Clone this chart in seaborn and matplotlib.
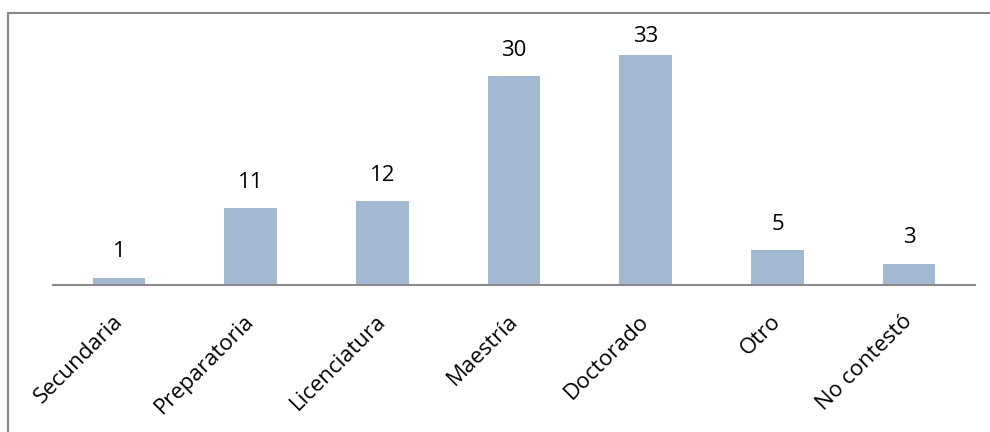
import matplotlib
matplotlib.use("Agg")
import matplotlib.pyplot as plt
from matplotlib.patches import Rectangle
from matplotlib.transforms import ScaledTranslation
import seaborn as sns
import pandas as pd

# Nivel de estudios
categorias = ["Secundaria", "Preparatoria", "Licenciatura", "Maestría",
              "Doctorado", "Otro", "No contestó"]
valores = [1, 11, 12, 30, 33, 5, 3]

sns.set_theme(style="white")
plt.rcParams["font.family"] = ["Open Sans", "DejaVu Sans"]

df = pd.DataFrame({"categoria": categorias, "valor": valores})

fig = plt.figure(figsize=(9.9, 4.32), dpi=100)
ax = fig.add_axes([53.3 / 990, 1 - 284.5 / 432, (975 - 53.3) / 990, (284.5 - 41.6) / 432])

sns.barplot(data=df, x="categoria", y="valor", color="#A3B9D1", width=0.4,
            saturation=1, ax=ax, edgecolor="none")

ax.set_ylim(0, 35)
ax.set_xlim(-0.5, len(categorias) - 0.5)
ax.set_xlabel("")
ax.set_ylabel("")
ax.set_yticks([])
for s in ["top", "right", "left"]:
    ax.spines[s].set_visible(False)
ax.spines["bottom"].set_color("#8A8A8A")
ax.spines["bottom"].set_linewidth(1.5)

ax.tick_params(axis="x", length=0, pad=18)
ax.set_xticks(range(len(categorias)))
ax.set_xticklabels(categorias, rotation=45, ha="right", rotation_mode="anchor",
                   fontsize=16, color="#000000")
shift = ScaledTranslation(-7 / 100, -1 / 100, fig.dpi_scale_trans)
for lbl in ax.get_xticklabels():
    lbl.set_transform(lbl.get_transform() + shift)

# Etiquetas de valor sobre cada barra
top = max(valores)
for i, v in enumerate(valores):
    off = 6 if v == top else 11
    ax.annotate(str(v), xy=(i, v), xytext=(0, off), textcoords="offset points",
                ha="center", va="bottom", fontsize=16, color="#000000")

# Marco exterior del gráfico
fig.patches.append(Rectangle((7.5 / 990, -0.1), 1.1, 1 - 12.5 / 432 + 0.1,
                             transform=fig.transFigure, fill=False,
                             edgecolor="#878787", linewidth=1.5, figure=fig))

fig.savefig("out.png", dpi=100, facecolor="white")
